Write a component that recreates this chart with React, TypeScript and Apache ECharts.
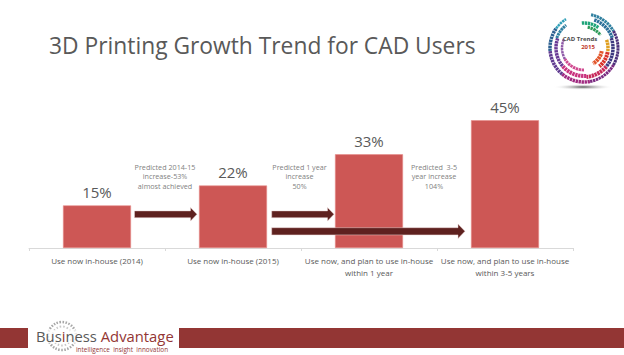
import React, { useEffect, useRef } from "react";
import * as echarts from "echarts";

const categories = [
  "Use now in-house (2014)",
  "Use now in-house (2015)",
  "Use now, and plan to use in-house\nwithin 1 year",
  "Use now, and plan to use in-house\nwithin 3-5 years",
];
const values = [15, 22, 33, 45];
const titleText = "3D Printing Growth Trend for CAD Users";
const notes = [
  { text: "Predicted 2014-15\nincrease-53%\nalmost achieved", x: 165 },
  { text: "Predicted 1 year\nincrease\n50%", x: 299.5 },
  { text: "Predicted  3-5\nyear increase\n104%", x: 434 },
];
const arrows = [
  { x0: 134.5, x1: 197, y: 214.3, shaft: 3.4, head: 6.8, headLen: 6.5 },
  { x0: 271.7, x1: 334, y: 214.3, shaft: 3.4, head: 6.8, headLen: 6.5 },
  { x0: 271.7, x1: 465, y: 231.3, shaft: 3.6, head: 7.2, headLen: 7 },
];
// logo rings: radius, start and end angle (degrees, clockwise from east), colour, width
const logoRings: [number, number, number, string, number][] = [
  [34, -78, -30, "#2f7f9f", 3],
  [30, -70, -20, "#2b6f99", 3.5],
  [25, -95, -55, "#1fa57a", 3.5],
  [21, -80, -38, "#2e9b5a", 3],
  [34, -30, 30, "#4a2f7a", 3],
  [29, -20, 40, "#3d3a80", 3.5],
  [24, -20, 10, "#e0a020", 3.5],
  [18, 10, 60, "#e2552a", 4],
  [24, 10, 50, "#d8322a", 4],
  [29, 40, 85, "#c72a5c", 4],
  [34, 30, 80, "#7a2a80", 3],
  [34, 80, 130, "#a02a80", 3.5],
  [28, 85, 140, "#c8327f", 4],
  [22, 90, 150, "#d04a90", 3],
  [34, 130, 175, "#5f3a90", 3.5],
  [28, 140, 200, "#6a3a95", 3.5],
  [22, 150, 205, "#8f5aa8", 2.5],
  [34, 175, 215, "#2c5f90", 3.5],
  [29, 200, 232, "#2f7fa0", 3],
  [34, 215, 238, "#2f9fb8", 2.5],
];

function App() {
  const ref = useRef<HTMLDivElement>(null);
  useEffect(() => {
    const chart = echarts.init(ref.current!, undefined, { renderer: "svg" });
    const d2r = Math.PI / 180;
    const noteEls = notes.map((n) => ({
      type: "text",
      x: n.x,
      y: 162,
      style: {
        text: n.text,
        fontFamily: "Open Sans",
        fontSize: 7.2,
        lineHeight: 9.5,
        fill: "#7f7f7f",
        align: "center",
      },
    }));
    const arrowEls = arrows.map((a) => ({
      type: "polygon",
      shape: {
        points: [
          [a.x0, a.y - a.shaft],
          [a.x1 - a.headLen, a.y - a.shaft],
          [a.x1 - a.headLen, a.y - a.head],
          [a.x1, a.y],
          [a.x1 - a.headLen, a.y + a.head],
          [a.x1 - a.headLen, a.y + a.shaft],
          [a.x0, a.y + a.shaft],
        ],
      },
      style: { fill: "#5e211f", stroke: "#ead5d4", lineWidth: 0.5 },
      z: 10,
    }));
    const ringEls = logoRings.map(([r, s, e, color, w]) => ({
      type: "arc",
      shape: { cx: 584, cy: 48, r, startAngle: s * d2r, endAngle: e * d2r, clockwise: true },
      style: { stroke: color, lineWidth: w, fill: "none", lineDash: [2.4, 0.6] },
    }));
    chart.setOption({
      animation: false,
      grid: { left: 29, right: 51, top: 106, bottom: 107 },
      xAxis: {
        type: "category",
        data: categories,
        axisLine: { lineStyle: { color: "#d9d9d9", width: 1 } },
        axisTick: { show: true, length: 3, lineStyle: { color: "#d9d9d9" } },
        axisLabel: {
          interval: 0,
          color: "#595959",
          fontFamily: "Open Sans",
          fontSize: 8,
          lineHeight: 12,
          margin: 6,
        },
      },
      yAxis: { type: "value", min: 0, max: 50, show: false },
      series: [
        {
          type: "bar",
          data: values,
          barWidth: 68,
          itemStyle: { color: "#cd5755", borderColor: "#e58b89", borderWidth: 0.6 },
          label: {
            show: true,
            position: "top",
            distance: 6,
            formatter: "{c}%",
            color: "#595959",
            fontFamily: "Open Sans",
            fontSize: 15,
          },
        },
      ],
      graphic: [
        {
          type: "text",
          x: 49,
          y: 34,
          style: {
            text: titleText,
            fontFamily: "Open Sans",
            fontSize: 22.8,
            fill: "#595959",
          },
        },
        ...noteEls,
        ...arrowEls,
        // logo
        {
          type: "ellipse",
          shape: { cx: 583, cy: 87, rx: 30, ry: 3 },
          style: {
            fill: new echarts.graphic.RadialGradient(0.5, 0.5, 0.5, [
              { offset: 0, color: "#555555" },
              { offset: 1, color: "rgba(255,255,255,0)" },
            ]),
          },
        },
        ...ringEls,
        {
          type: "text",
          x: 580,
          y: 35.5,
          style: {
            text: "CAD Trends",
            fontFamily: "Open Sans",
            fontWeight: "bold",
            fontSize: 6,
            fill: "#4a4a4a",
            align: "center",
          },
        },
        {
          type: "text",
          x: 588,
          y: 43.5,
          style: {
            text: "2015",
            fontFamily: "Open Sans",
            fontWeight: "bold",
            fontSize: 6,
            fill: "#c0392b",
            align: "center",
          },
        },
        // footer
        { type: "rect", shape: { x: 0, y: 328, width: 28, height: 20 }, style: { fill: "#933634" } },
        { type: "rect", shape: { x: 179, y: 328, width: 445, height: 20 }, style: { fill: "#933634" } },
        {
          type: "circle",
          shape: { cx: 62, cy: 336, r: 14 },
          style: { fill: "none", stroke: "#a6a6a6", lineWidth: 2.5, lineDash: [1.5, 1.5] },
        },
        {
          type: "circle",
          shape: { cx: 62, cy: 336, r: 9.5 },
          style: { fill: "none", stroke: "#c8c8c8", lineWidth: 2, lineDash: [1.5, 2] },
        },
        {
          type: "rect",
          shape: { x: 36, y: 330, width: 60, height: 13 },
          style: { fill: "rgba(255,255,255,0.75)" },
        },
        {
          type: "text",
          x: 36,
          y: 328.5,
          style: {
            text: "{g|Bus}{r|i}{g|ness }{r|Advantage}",
            rich: {
              g: { fontFamily: "Open Sans", fontSize: 14.8, fill: "#595959", fontWeight: 400 },
              r: { fontFamily: "Open Sans", fontSize: 14.8, fill: "#933634", fontWeight: 400 },
            },
          },
        },
        {
          type: "text",
          x: 76,
          y: 346,
          style: {
            text: "intelligence  insight  innovation",
            fontFamily: "Open Sans",
            fontSize: 6.4,
            fill: "#933634",
          },
        },
      ],
    });
    return () => chart.dispose();
  }, []);
  return (
    <div
      ref={ref}
      style={{ position: "absolute", left: 0, top: 0, width: 624, height: 355, background: "#fff" }}
    />
  );
}

export default App;
